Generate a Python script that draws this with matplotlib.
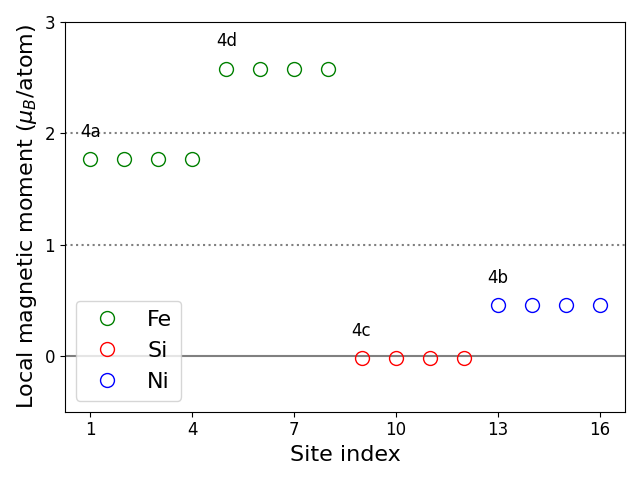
import numpy as np
import matplotlib
matplotlib.use('Agg')
import matplotlib.pyplot as plt

# ── data ──────────────────────────────────────────────────────────────────────
fe_sites = [1, 2, 3, 4, 5, 6, 7, 8]
fe_moms  = [1.77, 1.77, 1.77, 1.77, 2.58, 2.58, 2.58, 2.58]
si_sites = [9, 10, 11, 12]
si_moms  = [-0.02, -0.02, -0.02, -0.02]
ni_sites = [13, 14, 15, 16]
ni_moms  = [0.46, 0.46, 0.46, 0.46]

wyckoff       = ['4a', '4d', '4c', '4b']
wyckoff_sites = [1, 5, 9, 13]
wyckoff_moms  = [1.77, 2.58, -0.02, 0.46]

# ── plot ──────────────────────────────────────────────────────────────────────
fig, ax = plt.subplots(figsize=(6.4, 4.8), dpi=100)

ax.axhline(0, color='gray', lw=1.5)
ax.axhline(1, color='gray', lw=1.5, ls=':')
ax.axhline(2, color='gray', lw=1.5, ls=':')

ax.plot(fe_sites, fe_moms, 'o', ms=10, mfc='none', color='green', label='Fe')
ax.plot(si_sites, si_moms, 'o', ms=10, mfc='none', color='red', label='Si')
ax.plot(ni_sites, ni_moms, 'o', ms=10, mfc='none', color='blue', label='Ni')

for lab, s, m in zip(wyckoff, wyckoff_sites, wyckoff_moms):
    ax.text(s - 0.3, m + 0.2, lab, fontsize=12)

ax.set_ylim(-0.5, 3)
ax.set_yticks([0, 1, 2, 3])
ax.set_xticks([1, 4, 7, 10, 13, 16])
ax.tick_params(labelsize=12)
ax.set_xlabel('Site index', fontsize=16)
ax.set_ylabel(r'Local magnetic moment ($\mu_B$/atom)', fontsize=16)
ax.legend(loc='lower left', fontsize=16)

plt.tight_layout()
fig.savefig('out.png', dpi=100)
